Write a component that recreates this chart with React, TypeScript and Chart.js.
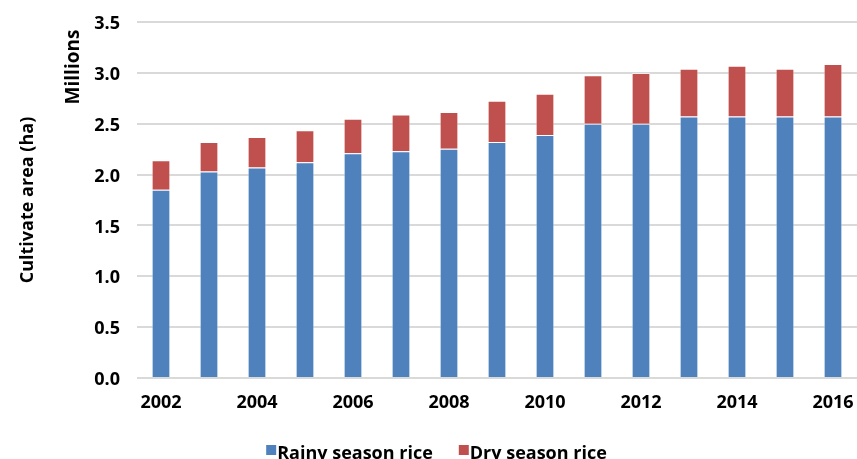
import React, { useEffect, useRef } from 'react';
import { Chart, registerables } from 'chart.js';

Chart.register(...registerables);

const years = ['2002', '2003', '2004', '2005', '2006', '2007', '2008', '2009', '2010', '2011', '2012', '2013', '2014', '2015', '2016'];
// values in millions of hectares
const rainySeasonRice = [1.85, 2.03, 2.07, 2.12, 2.21, 2.23, 2.255, 2.32, 2.39, 2.5, 2.5, 2.57, 2.57, 2.57, 2.57];
const drySeasonRice = [0.29, 0.29, 0.3, 0.315, 0.34, 0.36, 0.36, 0.407, 0.405, 0.476, 0.499, 0.47, 0.5, 0.47, 0.517];
const seriesNames = ['Rainy season rice', 'Dry season rice'];
const seriesColors = ['#4F81BD', '#C0504D'];
const yAxisTitle = 'Cultivate area (ha)';
const unitLabel = 'Millions';

const FONT = "'Open Sans', sans-serif";
const FS = 18;

const extraText = {
  id: 'extraText',
  afterDraw(chart: any) {
    const ctx = chart.ctx as CanvasRenderingContext2D;
    ctx.save();
    ctx.fillStyle = '#000';
    // "Millions" unit label
    ctx.save();
    ctx.font = `bold 19px ${FONT}`;
    ctx.translate(74, 67);
    ctx.rotate(-Math.PI / 2);
    ctx.textAlign = 'center';
    ctx.textBaseline = 'middle';
    ctx.fillText(unitLabel, 0, 0);
    ctx.restore();
    // legend
    ctx.font = `bold ${FS}px ${FONT}`;
    const w1 = ctx.measureText(seriesNames[0]).width;
    const w2 = ctx.measureText(seriesNames[1]).width;
    const box = 10;
    const textGap = 1;
    const itemGap = 26;
    const total = box + textGap + w1 + itemGap + box + textGap + w2;
    let x = 436.5 - total / 2;
    const baseY = 459;
    ctx.textAlign = 'left';
    ctx.textBaseline = 'alphabetic';
    for (let i = 0; i < 2; i++) {
      ctx.fillStyle = seriesColors[i];
      ctx.fillRect(x, 445, box, box);
      ctx.fillStyle = '#000';
      ctx.fillText(seriesNames[i], x + box + textGap, baseY);
      x += box + textGap + (i === 0 ? w1 : w2) + itemGap;
    }
    ctx.restore();
  },
};

export default function App() {
  const ref = useRef<HTMLCanvasElement | null>(null);
  useEffect(() => {
    if (!ref.current) return;
    const chart = new Chart(ref.current, {
      type: 'bar',
      data: {
        labels: years,
        datasets: [
          {
            label: seriesNames[0],
            data: rainySeasonRice,
            backgroundColor: seriesColors[0],
            borderColor: 'rgba(255,255,255,0.5)',
            borderWidth: 1,
            barPercentage: 0.39,
            categoryPercentage: 1,
          },
          {
            label: seriesNames[1],
            data: drySeasonRice,
            backgroundColor: seriesColors[1],
            borderColor: 'rgba(255,255,255,0.5)',
            borderWidth: 1,
            barPercentage: 0.39,
            categoryPercentage: 1,
          },
        ],
      },
      options: {
        responsive: false,
        animation: false,
        layout: { padding: { top: 22, right: 0, left: 0, bottom: 0 } },
        plugins: { legend: { display: false }, tooltip: { enabled: false } },
        scales: {
          x: {
            stacked: true,
            grid: { display: false },
            border: { display: false },
            ticks: {
              autoSkip: false,
              maxRotation: 0,
              padding: 6,
              color: '#000',
              font: { family: FONT, size: FS, weight: 'bold' },
              callback: (_v: any, i: number) => (i % 2 === 0 ? years[i] : ''),
            },
            afterFit: (s: any) => {
              s.height = 81;
              s.paddingLeft = 0;
              s.paddingRight = 0;
            },
          },
          y: {
            stacked: true,
            min: 0,
            max: 3.5,
            grid: { color: '#D9D9D9', lineWidth: 2, drawTicks: false },
            border: { display: false },
            ticks: {
              stepSize: 0.5,
              padding: 17,
              labelOffset: 2,
              color: '#000',
              font: { family: FONT, size: FS, weight: 'bold' },
              callback: (v: any) => Number(v).toFixed(1),
            },
            title: {
              display: true,
              text: yAxisTitle,
              color: '#000',
              font: { family: FONT, size: FS, weight: 'bold' },
              padding: { top: 17, bottom: 0 },
            },
            afterFit: (s: any) => {
              s.width = 137;
              s.paddingTop = 0;
              s.paddingBottom = 0;
            },
          },
        },
      },
      plugins: [extraText],
    });
    return () => chart.destroy();
  }, []);
  return (
    <div style={{ position: 'fixed', left: 0, top: 0, width: 857, height: 459, background: '#fff' }}>
      <canvas ref={ref} width={857} height={459} style={{ display: 'block' }} />
    </div>
  );
}
